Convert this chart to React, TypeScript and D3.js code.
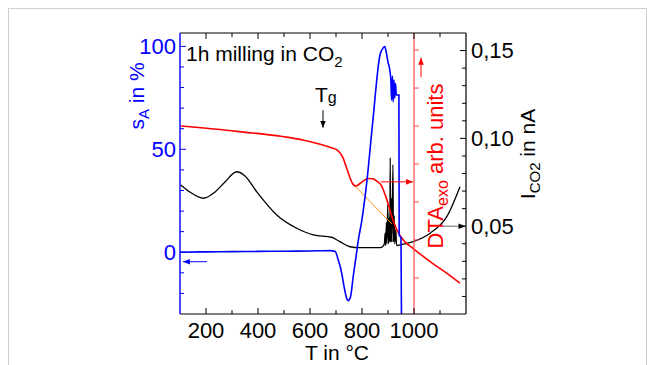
import * as d3 from 'd3';

// s_A in % (left axis, blue)
const sAData: [number, number][] = [
  [100, 0], [200, 0.2], [300, 0.3], [400, 0.4], [500, 0.5], [600, 0.6], [680, 0.8],
  [696, 0.5], [709, -3.8], [722, -10.2], [731, -16.7], [741, -22.4], [747, -23.5],
  [756, -21.6], [766, -11.9], [777, -2.2], [786, 5.9], [800, 16], [818, 33.6],
  [842, 64.2], [869, 95.8], [881, 99.2], [888, 99.9], [892, 98], [900, 92.4],
  [908, 87.5], [911, 83.6], [914, 73.9], [917, 85.6], [920, 73], [923, 83.6],
  [926, 74.9], [929, 82], [932, 76.4], [942, 76.4], [943, 8.4], [950, 6.9], [952, -35],
];

// DTA in arb. units (red, inner axis at 1000 °C)
const dtaData: [number, number][] = [
  [104, 5.0], [319, 4.86], [573, 4.63], [627, 4.54], [677, 4.44], [704, 4.37],
  [727, 4.16], [742, 3.87], [765, 3.47], [777, 3.42], [800, 3.53], [823, 3.62],
  [842, 3.61], [858, 3.54], [873, 3.45], [896, 3.05], [919, 2.53], [938, 2.21],
  [965, 1.95], [996, 1.78], [1062, 1.43], [1127, 1.12], [1177, 0.86],
];

// tangent construction on the DTA step
const tangentData: [number, number][] = [[773, 3.42], [915, 2.42]];

// I_CO2 in nA (right axis, black)
const co2Data: [number, number][] = [
  [103, 0.0735], [138, 0.0695], [190, 0.0659], [235, 0.0695], [273, 0.0752],
  [318, 0.081], [350, 0.0786], [395, 0.0696], [472, 0.0564], [549, 0.0488],
  [613, 0.045], [683, 0.0437], [715, 0.0412], [754, 0.0383], [792, 0.0378],
  [869, 0.0378], [880, 0.0385], [886, 0.040], [889, 0.046], [891, 0.039],
  [894, 0.052], [896, 0.040], [899, 0.062], [902, 0.040], [905, 0.055],
  [907, 0.041], [908.5, 0.089], [910.5, 0.041], [913, 0.066], [915, 0.041],
  [919, 0.085], [921, 0.041], [924, 0.056], [926, 0.040], [930, 0.048],
  [933, 0.039], [946, 0.0393], [997, 0.0412], [1062, 0.046], [1126, 0.0554],
  [1177, 0.0725],
];

const xTicks = [200, 300, 400, 500, 600, 700, 800, 900, 1000, 1100];
const xLabels = [200, 400, 600, 800, 1000];
const sATicks = [-20, -10, 0, 10, 20, 30, 40, 50, 60, 70, 80, 90, 100];
const sALabels = [0, 50, 100];
const co2Ticks = [0.01, 0.02, 0.03, 0.04, 0.05, 0.06, 0.07, 0.08, 0.09, 0.1, 0.11, 0.12, 0.13, 0.14, 0.15];
const co2Labels = [0.05, 0.1, 0.15];
const dtaTicks = [1, 2, 3, 4, 5, 6, 7];
const dtaAxisT = 1000;

const FONT = '"Liberation Sans", Arial, sans-serif';

export default function App() {
  const x = d3.scaleLinear().domain([100, 1200]).range([180, 466]);
  const ySA = d3.scaleLinear().domain([-30, 106.5]).range([314, 33]);
  const yCO2 = d3.scaleLinear().domain([0, 0.16]).range([314, 33]);
  const yDTA = d3.scaleLinear().domain([0.05, 7.45]).range([314, 33]);

  const [x0, x1] = x.range();
  const [yb, yt] = ySA.range();

  const lineSA = d3.line<[number, number]>().x(d => x(d[0])).y(d => ySA(d[1])).curve(d3.curveMonotoneX);
  const lineDTA = d3.line<[number, number]>().x(d => x(d[0])).y(d => yDTA(d[1])).curve(d3.curveMonotoneX);
  const lineCO2 = d3.line<[number, number]>().x(d => x(d[0])).y(d => yCO2(d[1])).curve(d3.curveMonotoneX);
  const lineTan = d3.line<[number, number]>().x(d => x(d[0])).y(d => yDTA(d[1]));

  const fmt = (v: number) => v.toFixed(2).replace('.', ',');
  const xd = x(dtaAxisT);

  return (
    <svg width={655} height={365} style={{ position: 'absolute', left: 0, top: 0 }} fontFamily={FONT}>
      <defs>
        <clipPath id="plot">
          <rect x={x0} y={yt} width={x1 - x0} height={yb - yt} />
        </clipPath>
        <marker id="ah-black" viewBox="0 0 10 10" refX="10" refY="5" markerWidth="7" markerHeight="7" orient="auto">
          <path d="M0,1 L10,5 L0,9 z" fill="#000" />
        </marker>
        <marker id="ah-red" viewBox="0 0 10 10" refX="10" refY="5" markerWidth="7" markerHeight="7" orient="auto">
          <path d="M0,1 L10,5 L0,9 z" fill="#ff0000" />
        </marker>
        <marker id="ah-blue" viewBox="0 0 10 10" refX="10" refY="5" markerWidth="7" markerHeight="7" orient="auto">
          <path d="M0,1 L10,5 L0,9 z" fill="#0000ff" />
        </marker>
      </defs>

      <rect x={8.5} y={8.5} width={638} height={380} fill="none" stroke="#cfcfcf" />

      {/* curves */}
      <g clipPath="url(#plot)">
        <path d={lineCO2(co2Data) || ''} fill="none" stroke="#000" strokeWidth={1.3} />
        <path d={lineTan(tangentData) || ''} fill="none" stroke="#ff8c1a" strokeWidth={1} />
        <path d={lineDTA(dtaData) || ''} fill="none" stroke="#ff0000" strokeWidth={1.6} />
        <path d={lineSA(sAData) || ''} fill="none" stroke="#0000ff" strokeWidth={1.6} />
      </g>

      {/* DTA inner axis */}
      <line x1={xd} x2={xd} y1={yt} y2={yb} stroke="#ff4d4d" strokeWidth={1.2} />
      {dtaTicks.map(t => (
        <line key={'d' + t} x1={xd} x2={xd + 5} y1={yDTA(t)} y2={yDTA(t)} stroke="#ff4d4d" strokeWidth={1} />
      ))}

      {/* frame */}
      <line x1={x0} x2={x1} y1={yb} y2={yb} stroke="#000" strokeWidth={1.2} />
      <line x1={x0} x2={x1} y1={yt} y2={yt} stroke="#000" strokeWidth={1.2} />
      <line x1={x1} x2={x1} y1={yt} y2={yb} stroke="#000" strokeWidth={1.2} />
      <line x1={x0} x2={x0} y1={yt} y2={yb} stroke="#0000ff" strokeWidth={1.4} />

      {/* x ticks */}
      {xTicks.map(t => {
        const len = xLabels.includes(t) ? 6 : 4;
        return (
          <g key={'x' + t}>
            <line x1={x(t)} x2={x(t)} y1={yb} y2={yb - len} stroke="#000" />
            <line x1={x(t)} x2={x(t)} y1={yt} y2={yt + len} stroke="#000" />
          </g>
        );
      })}
      {xLabels.map(t => (
        <text key={'xl' + t} x={x(t)} y={338} textAnchor="middle" fontSize={22} fill="#000">{t}</text>
      ))}
      <text x={337} y={360} textAnchor="middle" fontSize={21} fill="#000">T in °C</text>

      {/* left axis */}
      {sATicks.map(t => {
        const len = sALabels.includes(t) ? 6 : 4;
        return <line key={'s' + t} x1={x0} x2={x0 + len} y1={ySA(t)} y2={ySA(t)} stroke="#0000ff" />;
      })}
      {sALabels.map(t => (
        <text key={'sl' + t} x={176} y={ySA(t)} dy="0.36em" textAnchor="end" fontSize={22} fill="#0000ff">{t}</text>
      ))}
      <text transform="translate(144,96) rotate(-90)" textAnchor="middle" fontSize={21} fill="#0000ff">
        s<tspan fontSize={15} dy={5}>A</tspan><tspan dy={-5}> in %</tspan>
      </text>

      {/* right axis */}
      {co2Ticks.map(t => {
        const len = co2Labels.some(l => Math.abs(l - t) < 1e-9) ? 6 : 4;
        return <line key={'c' + t} x1={x1} x2={x1 - len} y1={yCO2(t)} y2={yCO2(t)} stroke="#000" />;
      })}
      {co2Labels.map(t => (
        <text key={'cl' + t} x={471} y={yCO2(t)} dy="0.36em" textAnchor="start" fontSize={22} fill="#000">{fmt(t)}</text>
      ))}
      <text transform="translate(535,154) rotate(-90)" textAnchor="middle" fontSize={21} fill="#000">
        I<tspan fontSize={15} dy={5}>CO2</tspan><tspan dy={-5}> in nA</tspan>
      </text>

      {/* DTA label */}
      <text transform="translate(443,166) rotate(-90)" textAnchor="middle" fontSize={22} fill="#ff0000">
        DTA<tspan fontSize={16} dy={5}>exo</tspan><tspan dy={-5}> arb. units</tspan>
      </text>

      {/* annotations */}
      <text x={186} y={61} fontSize={21} fill="#000">
        1h milling in CO<tspan fontSize={15} dy={6}>2</tspan>
      </text>
      <text x={315} y={102} fontSize={21} fill="#000">
        T<tspan fontSize={16} dy={1}>g</tspan>
      </text>
      <line x1={x(650)} x2={x(650)} y1={ySA(69)} y2={ySA(60.5)} stroke="#000" strokeWidth={1} markerEnd="url(#ah-black)" />
      <line x1={x(204)} x2={x(111)} y1={ySA(-4.6)} y2={ySA(-4.6)} stroke="#0000ff" strokeWidth={1} markerEnd="url(#ah-blue)" />
      <line x1={x(873)} x2={x(996)} y1={yDTA(3.53)} y2={yDTA(3.53)} stroke="#ff0000" strokeWidth={1} markerEnd="url(#ah-red)" />
      <line x1={x(1027)} x2={x(1027)} y1={yDTA(6.29)} y2={yDTA(6.8)} stroke="#ff0000" strokeWidth={1} markerEnd="url(#ah-red)" />
      <line x1={x(1108)} x2={x(1198)} y1={yCO2(0.05)} y2={yCO2(0.05)} stroke="#666" strokeWidth={1} markerEnd="url(#ah-black)" />
    </svg>
  );
}
